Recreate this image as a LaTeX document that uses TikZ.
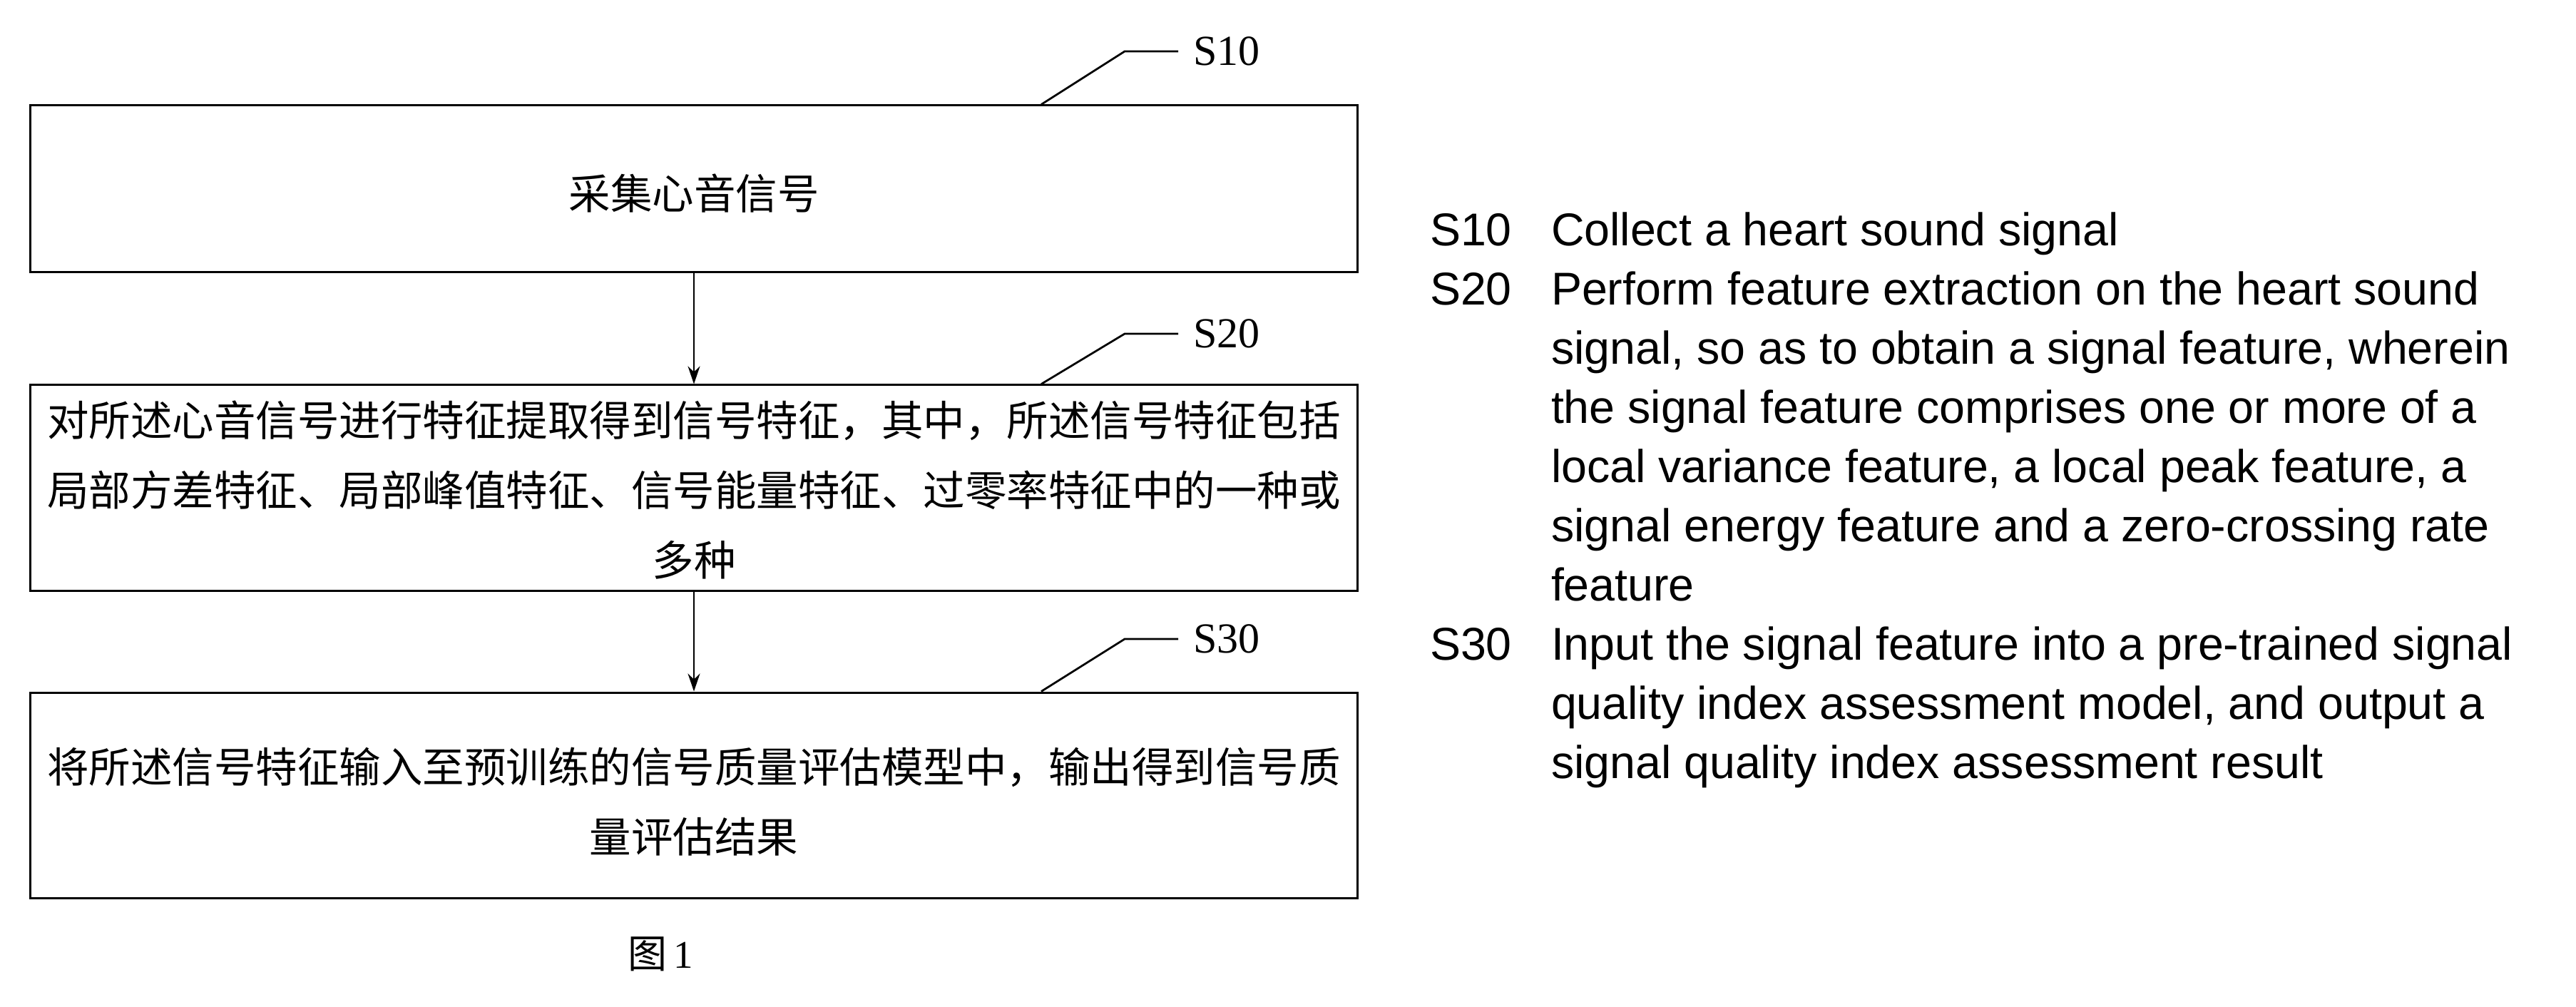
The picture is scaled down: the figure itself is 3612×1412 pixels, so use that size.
\documentclass[tikz,border=0pt]{standalone}
\usepackage{fontspec}
\setmainfont{Liberation Serif}
\newfontfamily\cjk{Noto Sans CJK SC}
\newfontfamily\arialfont{Liberation Sans}
\usetikzlibrary{arrows.meta,calc}
\begin{document}
\begin{tikzpicture}[x=0.2pt,y=-0.2pt,
  box/.style={draw, line width=0.6pt, minimum width=372pt, inner sep=0pt},
  boxtext/.style={inner sep=0pt, align=center, font=\cjk\fontsize{11.7}{19.6}\selectfont},
  arr/.style={line width=0.4pt, -{Stealth[length=5pt,width=3.4pt]}},
  lead/.style={line width=0.55pt},
  steplabel/.style={anchor=west, inner sep=4pt, font=\fontsize{12}{14}\selectfont},
  eng/.style={anchor=base west, inner sep=0pt, font=\arialfont\fontsize{12.9}{15}\selectfont}]
\useasboundingbox[fill=white] (0,0) rectangle (3612,1412);

% boxes
\node[box, minimum height=46.6pt] (b1) at (973,264.5) {};
\node[box, minimum height=57.6pt] (b2) at (973,684) {};
\node[box, minimum height=57.6pt] (b3) at (973,1115) {};
\node[boxtext] (x1) at ($(b1.center)+(0,7)$) {采集心音信号};
\node[boxtext] (x2) at ($(b2.center)+(0,3)$)
  {对所述心音信号进行特征提取得到信号特征，其中，所述信号特征包括\\局部方差特征、局部峰值特征、信号能量特征、过零率特征中的一种或\\多种};
\node[boxtext] (x3) at ($(b3.center)+(0,9)$)
  {将所述信号特征输入至预训练的信号质量评估模型中，输出得到信号质\\量评估结果};

% arrows
\draw[arr] (b1.south) -- (b2.north);
\draw[arr] (b2.south) -- (b3.north);

% step labels with leaders
\node[steplabel] (s10) at (1652,72) {S10};
\node[steplabel] (s20) at (1652,468) {S20};
\node[steplabel] (s30) at (1652,896) {S30};
\coordinate (k1) at (1577,72);
\coordinate (k2) at (1577,468);
\coordinate (k3) at (1577,896);
\draw[lead] ($(b1.north)+(487,0)$) -- (k1) -- (s10.west);
\draw[lead] ($(b2.north)+(487,0)$) -- (k2) -- (s20.west);
\draw[lead] ($(b3.north)+(487,0)$) -- (k3) -- (s30.west);

% figure caption
\node[font=\fontsize{11}{13}\selectfont, inner sep=0pt] (cap) at (926,1338) {{\cjk 图}\,1};

% English legend
\node[eng] (t10) at (2004,344) {S10};
\node[eng] (t20) at (2004,427) {S20};
\node[eng] (t30) at (2004,925) {S30};
\node[eng] (e1) at (2174,344) {Collect a heart sound signal};
\node[eng] (e2) at (2174,427) {Perform feature extraction on the heart sound};
\node[eng] (e3) at (2174,510) {signal, so as to obtain a signal feature, wherein};
\node[eng] (e4) at (2174,593) {the signal feature comprises one or more of a};
\node[eng] (e5) at (2174,676) {local variance feature, a local peak feature, a};
\node[eng] (e6) at (2174,759) {signal energy feature and a zero-crossing rate};
\node[eng] (e7) at (2174,842) {feature};
\node[eng] (e8) at (2174,925) {Input the signal feature into a pre-trained signal};
\node[eng] (e9) at (2174,1008) {quality index assessment model, and output a};
\node[eng] (e10) at (2174,1091) {signal quality index assessment result};
\end{tikzpicture}
\end{document}
